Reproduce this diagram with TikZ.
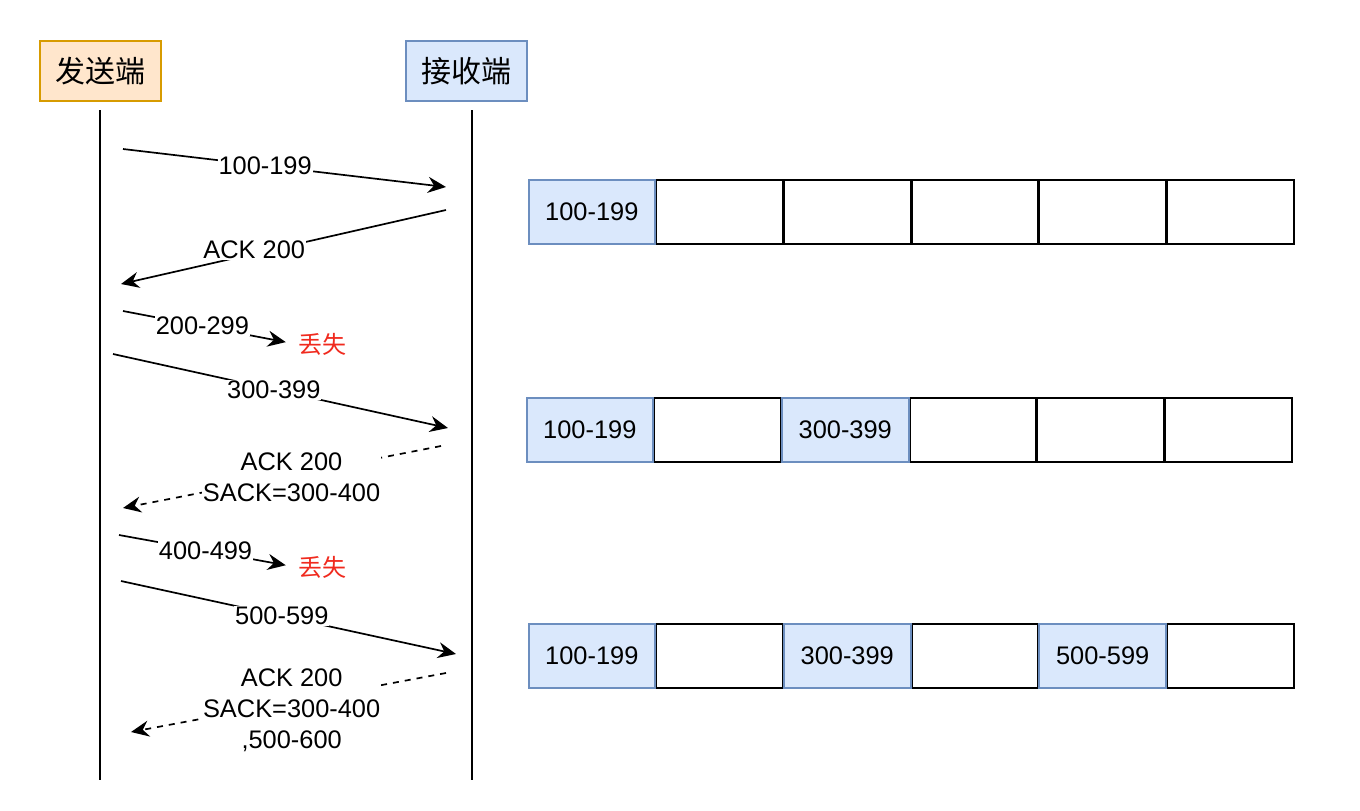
\documentclass[tikz,border=0pt]{standalone}
\usepackage{fontspec}
\setmainfont{Liberation Sans}
\newfontfamily\cjk{Noto Sans CJK SC}
\usetikzlibrary{arrows.meta}
\definecolor{orfill}{HTML}{FFE6CC}
\definecolor{ordraw}{HTML}{D79B00}
\definecolor{blfill}{HTML}{DAE8FC}
\definecolor{bldraw}{HTML}{6C8EBF}
\definecolor{lostred}{HTML}{F02A1E}
\begin{document}
\begin{tikzpicture}[x=0.5pt,y=-0.5pt,
  font=\fontsize{12.7}{15.5}\selectfont,
  hdr/.style={draw, line width=1pt, minimum width=60.5pt, minimum height=30pt, inner sep=0pt, font=\cjk\fontsize{15}{17}\selectfont},
  life/.style={line width=1pt},
  msg/.style={line width=0.85pt, -{Stealth[length=9pt,width=8pt,inset=3pt]}},
  dmsg/.style={msg, dash pattern=on 3pt off 3pt},
  lbl/.style={fill=white, inner sep=0.5pt, align=center},
  lost/.style={text=lostred, font=\cjk\fontsize{12}{14}\selectfont, inner sep=1pt},
  cell/.style={draw, line width=1pt, minimum width=63.35pt, minimum height=32pt, inner sep=0pt, outer sep=0pt, anchor=west},
  bcell/.style={cell, fill=blfill, draw=bldraw}
]
\useasboundingbox (0,0) rectangle (1360,810);

% headers
\node[hdr, fill=orfill, draw=ordraw] (snd) at (100.5,71) {发送端};
\node[hdr, fill=blfill, draw=bldraw] (rcv) at (466.5,71) {接收端};

% lifelines
\coordinate (st) at (100,110); \coordinate (sb) at (100,780);
\coordinate (rt) at (472,110); \coordinate (rb) at (472,780);
\draw[life] (st) -- (sb);
\draw[life] (rt) -- (rb);

% message end points
\coordinate (a1) at (123,149); \coordinate (b1) at (446,187);
\coordinate (a2) at (446,210); \coordinate (b2) at (121,284);
\coordinate (a3) at (123,311);
\coordinate (a4) at (113,354); \coordinate (b4) at (448,428);
\coordinate (a5) at (441,446); \coordinate (b5) at (123,508);
\coordinate (a6) at (119,535);
\coordinate (a7) at (121,581); \coordinate (b7) at (456,654);
\coordinate (a8) at (446,673); \coordinate (b8) at (131,732);

\node[lost] (l1) at (322,344) {丢失};
\node[lost] (l2) at (322,567) {丢失};

\draw[msg] (a1) -- node[lbl, pos=0.44] {100-199} (b1);
\draw[msg] (a2) -- node[lbl, pos=0.59, yshift=2pt] {ACK 200} (b2);
\draw[msg, shorten >=5pt] (a3) -- node[lbl, pos=0.46] {200-299} (l1.west);
\draw[msg] (a4) -- node[lbl, pos=0.48] {300-399} (b4);
\draw[dmsg] (a5) -- node[lbl, pos=0.47, yshift=-1pt] {ACK 200\\SACK=300-400} (b5);
\draw[msg, shorten >=5pt] (a6) -- node[lbl, pos=0.49] {400-499} (l2.west);
\draw[msg] (a7) -- node[lbl, pos=0.48] {500-599} (b7);
\draw[dmsg] (a8) -- node[lbl, pos=0.49, yshift=-4pt] {ACK 200\\SACK=300-400\\,500-600} (b8);

% buffer row 1
\foreach \i in {2,...,6} {
  \node[cell] (r1c\i) at ({528.5+(\i-1)*127.7},211.5) {};
}
\node[bcell] (r1c1) at (528.5,211.5) {100-199};

% buffer row 2
\foreach \i in {2,4,5,6} {
  \node[cell] (r2c\i) at ({526.5+(\i-1)*127.7},429.5) {};
}
\node[bcell] (r2c1) at (526.5,429.5) {100-199};
\node[bcell] (r2c3) at (781.9,429.5) {300-399};

% buffer row 3
\foreach \i in {2,4,6} {
  \node[cell] (r3c\i) at ({528.5+(\i-1)*127.7},655.5) {};
}
\node[bcell] (r3c1) at (528.5,655.5) {100-199};
\node[bcell] (r3c3) at (783.9,655.5) {300-399};
\node[bcell] (r3c5) at (1039.3,655.5) {500-599};
\end{tikzpicture}
\end{document}
